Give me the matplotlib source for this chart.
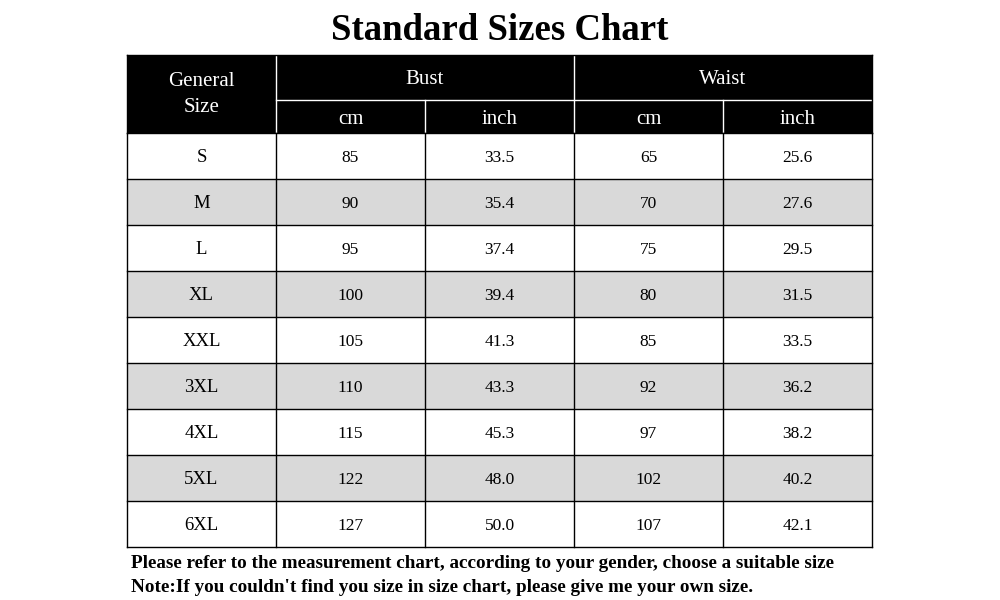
import matplotlib.pyplot as plt
from matplotlib.patches import Rectangle

sizes = ["S", "M", "L", "XL", "XXL", "3XL", "4XL", "5XL", "6XL"]
bust_cm = ["85", "90", "95", "100", "105", "110", "115", "122", "127"]
bust_inch = ["33.5", "35.4", "37.4", "39.4", "41.3", "43.3", "45.3", "48.0", "50.0"]
waist_cm = ["65", "70", "75", "80", "85", "92", "97", "102", "107"]
waist_inch = ["25.6", "27.6", "29.5", "31.5", "33.5", "36.2", "38.2", "40.2", "42.1"]
groups = ["Bust", "Waist"]
units = ["cm", "inch"]
notes = [
    "Please refer to the measurement chart, according to your gender, choose a suitable size",
    "Note:If you couldn't find you size in size chart, please give me your own size.",
]

plt.rcParams["font.family"] = ["Liberation Serif", "DejaVu Serif"]

fig = plt.figure(figsize=(10, 6), dpi=100)
ax = fig.add_axes([0, 0, 1, 1])
ax.set_xlim(0, 1000)
ax.set_ylim(600, 0)
ax.axis("off")

# table geometry in pixels
x0, cw = 127, 149
top, h1, h2, rh = 55, 45, 33, 46
ncol = 5
hb = top + h1 + h2
x1 = x0 + ncol * cw

ax.text(500, 30, "Standard Sizes Chart", ha="center", va="center",
        fontsize=26.5, fontweight="bold")

# header
ax.add_patch(Rectangle((x0, top), ncol * cw, h1 + h2, color="black", lw=0))
ax.plot([x0 + cw, x0 + cw], [top, hb], color="white", lw=1)
ax.plot([x0 + 3 * cw, x0 + 3 * cw], [top, hb], color="white", lw=1)
ax.plot([x0 + cw, x1], [top + h1, top + h1], color="white", lw=1)
for c in (2, 4):
    ax.plot([x0 + c * cw, x0 + c * cw], [top + h1, hb], color="white", lw=1)

ax.text(x0 + cw / 2, top + 27, "General", ha="center", va="center",
        color="white", fontsize=15)
ax.text(x0 + cw / 2, top + 53, "Size", ha="center", va="center",
        color="white", fontsize=15)
for g, name in enumerate(groups):
    gx = x0 + cw + g * 2 * cw
    ax.text(gx + cw, top + 25, name, ha="center", va="center",
            color="white", fontsize=15)
    for u, unit in enumerate(units):
        ax.text(gx + u * cw + cw / 2, top + h1 + 20, unit, ha="center",
                va="center", color="white", fontsize=15)

# body rows
columns = [sizes, bust_cm, bust_inch, waist_cm, waist_inch]
for r in range(len(sizes)):
    y = hb + r * rh
    face = "#d9d9d9" if r % 2 else "white"
    ax.add_patch(Rectangle((x0, y), ncol * cw, rh, facecolor=face, lw=0))
    for c, col in enumerate(columns):
        ax.text(x0 + c * cw + cw / 2, y + rh / 2 + 2, col[r], ha="center",
                va="center", fontsize=13.5 if c == 0 else 12.5)

yb = hb + len(sizes) * rh
for r in range(len(sizes) + 1):
    ax.plot([x0, x1], [hb + r * rh] * 2, color="black", lw=1)
for c in range(ncol + 1):
    ax.plot([x0 + c * cw] * 2, [hb, yb], color="black", lw=1)
ax.plot([x0, x0], [top, hb], color="black", lw=1)
ax.plot([x1, x1], [top, hb], color="black", lw=1)
ax.plot([x0, x1], [top, top], color="black", lw=1)

for i, line in enumerate(notes):
    ax.text(x0 + 4, yb + 16 + i * 25, line, ha="left", va="center",
            fontsize=13.8, fontweight="bold")

fig.savefig("out.png", dpi=100)
